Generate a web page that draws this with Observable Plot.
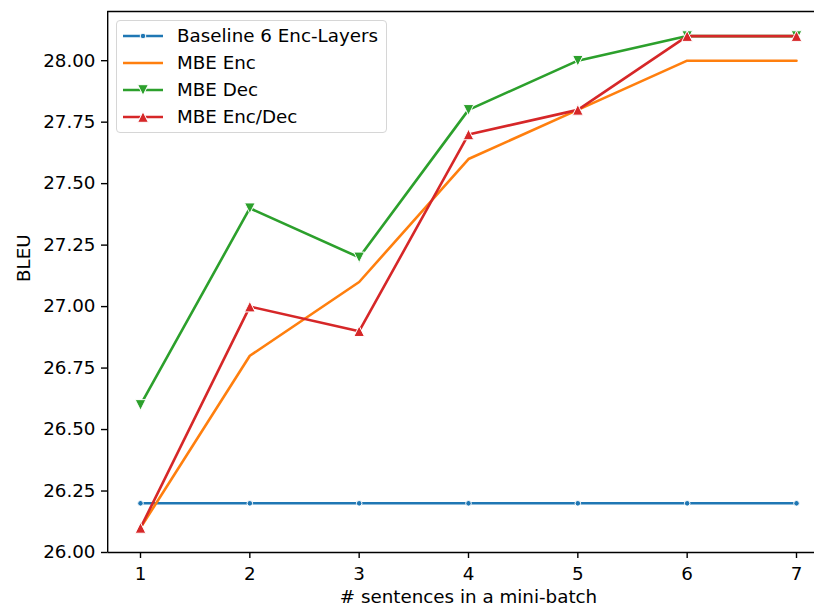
<!DOCTYPE html>
<html><head><meta charset="utf-8">
<script src="https://cdn.jsdelivr.net/npm/d3@7"></script>
<script src="https://cdn.jsdelivr.net/npm/@observablehq/plot@0.6"></script>
<style>
html,body{margin:0;padding:0;overflow:hidden;background:#fff;}
#wrap{position:relative;width:814px;height:607px;overflow:hidden;font-family:"DejaVu Sans",sans-serif;}
#wrap > svg{position:absolute;left:0;top:0;}
#legend{position:absolute;left:116px;top:20px;width:271px;height:113px;box-sizing:border-box;border:1.3px solid #d6d6d6;border-radius:4px;background:rgba(255,255,255,0.8);}
#legend .row{position:absolute;left:0;height:20px;}
#legend .row svg{position:absolute;left:6px;top:0;}
#legend .row span{position:absolute;left:60px;top:-1px;font-size:18.3px;white-space:nowrap;color:#000;}
</style></head><body><div id="wrap"></div>
<script>
const batchSizes = [1, 2, 3, 4, 5, 6, 7];
const seriesNames = ["Baseline 6 Enc-Layers", "MBE Enc", "MBE Dec", "MBE Enc/Dec"];
const baseline = [26.2, 26.2, 26.2, 26.2, 26.2, 26.2, 26.2];
const mbeEnc = [26.1, 26.8, 27.1, 27.6, 27.8, 28.0, 28.0];
const mbeDec = [26.6, 27.4, 27.2, 27.8, 28.0, 28.1, 28.1];
const mbeEncDec = [26.1, 27.0, 26.9, 27.7, 27.8, 28.1, 28.1];
const colors = ["#1f77b4", "#ff7f0e", "#2ca02c", "#d62728"];
const markers = ["point", "none", "down", "up"];
const yTicks = [26.0, 26.25, 26.5, 26.75, 27.0, 27.25, 27.5, 27.75, 28.0];
const xTicks = [1, 2, 3, 4, 5, 6, 7];

const values = [baseline, mbeEnc, mbeDec, mbeEncDec];
const data = [];
seriesNames.forEach((s, i) => batchSizes.forEach((x, j) => data.push({series: s, x, y: values[i][j]})));

const triUp = {draw(ctx, size) { const r = Math.sqrt(size / Math.PI); ctx.moveTo(0, -r); ctx.lineTo(r, r); ctx.lineTo(-r, r); ctx.closePath(); }};
const triDown = {draw(ctx, size) { const r = Math.sqrt(size / Math.PI); ctx.moveTo(0, r); ctx.lineTo(r, -r); ctx.lineTo(-r, -r); ctx.closePath(); }};

const fs = 18.3;
const marks = [];
seriesNames.forEach((s, i) => {
  const d = data.filter(e => e.series === s);
  marks.push(Plot.line(d, {x: "x", y: "y", stroke: colors[i], strokeWidth: 2.6}));
  if (markers[i] === "point") marks.push(Plot.dot(d, {x: "x", y: "y", r: 2.8, fill: colors[i], stroke: "white", strokeWidth: 1}));
  if (markers[i] === "up") marks.push(Plot.dot(d, {x: "x", y: "y", r: 5.3, symbol: triUp, fill: colors[i], stroke: "white", strokeWidth: 1}));
  if (markers[i] === "down") marks.push(Plot.dot(d, {x: "x", y: "y", r: 5.3, symbol: triDown, fill: colors[i], stroke: "white", strokeWidth: 1}));
});

const chart = Plot.plot({
  width: 814, height: 607,
  marginLeft: 107, marginTop: 11, marginBottom: 55, marginRight: 0,
  style: {fontFamily: "DejaVu Sans, sans-serif", fontSize: fs + "px", color: "#000", background: "transparent", overflow: "visible"},
  x: {domain: [0.7, 7.3], range: [107.2, 828.8]},
  y: {domain: [26.0, 28.2]},
  marks: [
    ...marks,
    Plot.ruleX([0.7], {stroke: "#000", strokeWidth: 1.4}),
    Plot.ruleY([26.0, 28.2], {x1: 0.7, x2: 7.3, stroke: "#000", strokeWidth: 1.4}),
    Plot.axisY({ticks: yTicks, tickFormat: d => d.toFixed(2), tickSize: 6, tickPadding: 6, fontSize: fs, label: null, strokeWidth: 1.4}),
    Plot.axisX({ticks: xTicks, tickFormat: d => String(d), tickSize: 6, tickPadding: 8, fontSize: fs, label: null, strokeWidth: 1.4}),
    Plot.text(["# sentences in a mini-batch"], {frameAnchor: "bottom", x: 4, dy: 50, fontSize: fs, fill: "#000", textAnchor: "middle"}),
    Plot.text(["BLEU"], {frameAnchor: "left", dx: -83, rotate: -90, fontSize: fs, fill: "#000"})
  ]
});
const wrap = document.getElementById("wrap");
wrap.appendChild(chart);

// legend
const leg = document.createElement("div");
leg.id = "legend";
const rowY = [15, 42, 69, 96];
seriesNames.forEach((s, i) => {
  const row = document.createElement("div");
  row.className = "row";
  row.style.top = (rowY[i] - 10) + "px";
  let sym = "";
  if (markers[i] === "point") sym = `<circle cx="20" cy="10" r="2.8" fill="${colors[i]}" stroke="white" stroke-width="1"/>`;
  if (markers[i] === "up") sym = `<path d="M20,4.7L25.3,15.3L14.7,15.3Z" fill="${colors[i]}" stroke="white" stroke-width="1"/>`;
  if (markers[i] === "down") sym = `<path d="M20,15.3L25.3,4.7L14.7,4.7Z" fill="${colors[i]}" stroke="white" stroke-width="1"/>`;
  row.innerHTML = `<svg width="42" height="20"><line x1="0" x2="40" y1="10" y2="10" stroke="${colors[i]}" stroke-width="2.6"/>${sym}</svg><span>${s}</span>`;
  leg.appendChild(row);
});
wrap.appendChild(leg);
</script></body></html>
